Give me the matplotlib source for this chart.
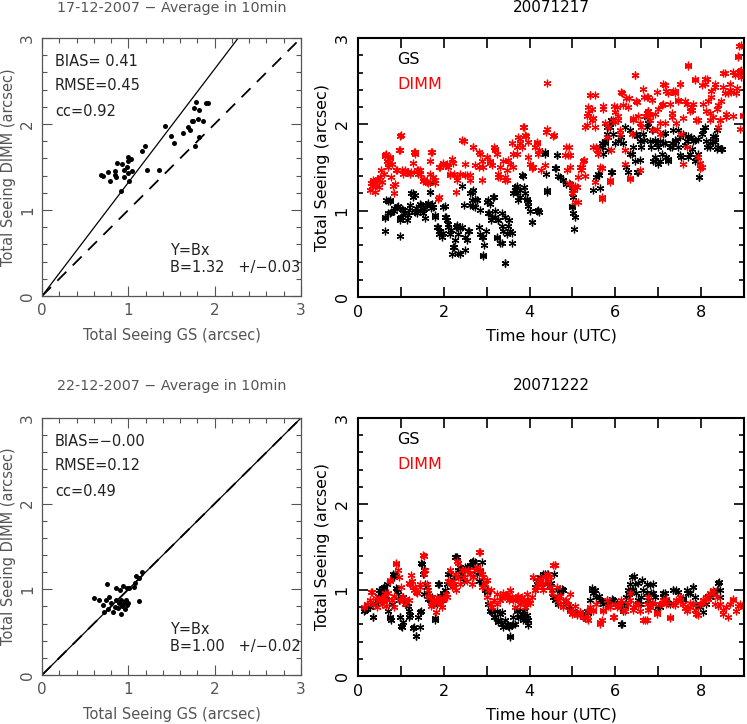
import numpy as np
import matplotlib
matplotlib.use("Agg")
import matplotlib.pyplot as plt
from matplotlib.ticker import MultipleLocator

plt.rcParams['font.family'] = ['DejaVu Sans']

# ---------------- data ----------------
# Scatter 17-12-2007 (GS, DIMM) 10-min averages
sc17_gs = [0.68, 0.71, 0.77, 0.79, 0.84, 0.85, 0.87, 0.86, 0.93, 0.95, 0.92, 0.95, 0.98, 1.00, 1.00,
           1.00, 1.03, 1.04, 1.01, 1.16, 1.19, 1.22, 1.36, 1.43, 1.50, 1.53, 1.63, 1.69, 1.72, 1.74,
           1.75, 1.76, 1.78, 1.77, 1.81, 1.82, 1.82, 1.87, 1.90, 1.92]
sc17_dimm = [1.41, 1.40, 1.44, 1.34, 1.41, 1.45, 1.55, 1.38, 1.54, 1.47, 1.22, 1.38, 1.50, 1.43, 1.57,
             1.62, 1.59, 1.45, 1.34, 1.69, 1.75, 1.47, 1.46, 1.98, 1.86, 1.78, 1.90, 1.96, 1.93, 2.03,
             2.04, 2.19, 2.26, 1.74, 2.06, 2.16, 1.85, 2.03, 2.24, 2.24]
# Scatter 22-12-2007
sc22_gs = [0.60, 0.66, 0.71, 0.74, 0.75, 0.72, 0.76, 0.78, 0.80, 0.82, 0.84, 0.86, 0.86, 0.88, 0.89,
           0.90, 0.91, 0.92, 0.93, 0.94, 0.95, 0.96, 0.97, 0.98, 0.99, 1.00, 1.01, 1.06, 1.08, 1.09,
           1.12, 1.12, 1.16]
sc22_dimm = [0.90, 0.87, 0.82, 0.88, 1.06, 0.73, 0.77, 0.91, 0.84, 0.74, 0.79, 0.88, 1.02, 0.78, 0.84,
             0.99, 0.87, 0.71, 0.80, 1.04, 0.84, 0.77, 0.87, 1.01, 0.82, 0.84, 1.01, 1.03, 1.07, 1.16,
             0.86, 1.13, 1.20]

stats17 = ["BIAS= 0.41", "RMSE=0.45", "cc=0.92"]
stats22 = ["BIAS=\u22120.00", "RMSE=0.12", "cc=0.49"]
fit17 = (1.32, 0.03)
fit22 = (1.00, 0.02)

# Time series 17-12-2007 (hour UTC, seeing arcsec)
gs17_t = [0.64, 0.64, 0.69, 0.74, 0.75, 0.83, 0.91, 0.97, 0.99, 1.02, 1.10, 1.14, 1.22, 1.28, 1.33, 1.37,
          1.45, 1.53, 1.57, 1.61, 1.67, 1.68, 1.72, 1.76, 1.80, 1.84, 1.88, 1.92, 1.96, 1.99, 2.03, 2.07,
          2.11, 2.15, 2.19, 2.23, 2.27, 2.30, 2.34, 2.38, 2.42, 2.46, 2.50, 2.54, 2.58, 2.61, 2.65, 2.69,
          2.73, 2.77, 2.81, 2.85, 2.89, 2.91, 2.94, 2.98, 3.02, 3.05, 3.08, 3.12, 3.16, 3.20, 3.24, 3.27,
          3.31, 3.35, 3.39, 3.43, 3.47, 3.51, 3.55, 3.58, 3.62, 3.66, 3.70, 3.74, 3.78, 3.82, 3.86, 3.89,
          3.93, 3.97, 4.01, 4.05, 4.18, 4.23, 4.36, 4.40, 4.38, 4.63, 4.62, 4.71, 4.79, 4.86, 4.94, 4.98,
          5.02, 5.03, 5.06, 5.48, 5.56, 5.60, 5.64, 5.68, 5.72, 5.76, 5.80, 5.83, 5.87, 5.91, 5.95, 5.91,
          5.99, 6.07, 6.14, 6.22, 6.26, 6.30, 6.34, 6.42, 6.45, 6.49, 6.53, 6.57, 6.61, 6.65, 6.73, 6.76,
          6.80, 6.84, 6.88, 6.92, 6.96, 7.00, 7.04, 7.08, 7.11, 7.15, 7.19, 7.23, 7.27, 7.31, 7.35, 7.42,
          7.46, 7.50, 7.54, 7.58, 7.66, 7.70, 7.73, 7.77, 7.81, 7.85, 7.89, 7.93, 7.95, 7.97, 8.01, 8.08,
          8.12, 8.20, 8.28, 8.32, 8.36, 8.39, 8.47]
gs17_v = [0.77, 0.92, 1.11, 1.11, 0.97, 1.00, 1.04, 0.91, 0.71, 1.02, 0.97, 0.89, 1.06, 1.20, 1.18, 0.97,
          1.08, 1.02, 0.91, 1.06, 1.22, 1.33, 1.08, 1.04, 0.95, 0.81, 0.73, 0.77, 0.69, 1.04, 0.93, 0.89,
          0.81, 0.73, 0.50, 0.58, 0.66, 0.81, 0.73, 0.50, 0.81, 1.06, 0.54, 0.66, 0.77, 1.20, 1.12, 1.24,
          1.04, 1.12, 0.81, 0.73, 0.69, 0.48, 0.60, 0.77, 1.12, 0.97, 1.08, 0.93, 1.16, 1.00, 0.68, 0.89,
          0.62, 0.97, 0.77, 0.39, 0.73, 0.89, 0.77, 0.62, 1.20, 1.27, 1.20, 1.12, 1.24, 1.41, 1.27, 1.20,
          1.14, 1.10, 1.00, 0.87, 1.00, 0.98, 1.68, 1.22, 1.43, 1.64, 1.49, 1.39, 1.35, 1.31, 1.31, 1.04,
          0.97, 0.79, 0.93, 1.24, 1.39, 1.43, 1.74, 1.78, 1.66, 1.81, 1.89, 1.85, 1.97, 2.05, 1.89, 1.45,
          1.78, 1.81, 1.85, 1.97, 1.51, 1.45, 1.66, 1.74, 1.58, 1.89, 1.45, 1.81, 1.74, 1.89, 2.08, 2.01,
          1.81, 1.74, 1.58, 1.62, 1.78, 1.54, 1.81, 1.66, 1.89, 1.78, 1.62, 1.58, 1.74, 1.78, 1.93, 1.81,
          1.74, 1.85, 1.62, 1.89, 1.81, 1.62, 1.66, 1.85, 1.81, 1.58, 1.62, 1.83, 1.39, 1.49, 1.89, 1.97,
          1.81, 1.74, 1.81, 1.85, 1.72, 1.74, 1.72]
gs17b_t = [0.66, 0.74, 0.62, 0.70, 0.78, 0.85, 0.93, 0.97, 1.01, 1.05, 1.09, 1.17, 1.20, 1.24, 1.28, 1.32,
           1.36, 1.44, 1.48, 1.52, 1.59, 1.63, 1.67, 1.71, 1.79, 1.86, 1.90, 1.98, 2.02, 2.06, 2.10, 2.18,
           2.21, 2.29, 2.42, 2.65, 2.73, 2.61, 2.69, 2.77, 2.84, 3.00, 3.04, 3.15, 3.11, 3.19, 3.27, 3.35,
           3.43, 3.50, 3.58, 3.66, 3.70, 3.78, 3.85, 3.93, 3.97, 4.20, 4.36, 4.40, 4.05, 2.30, 2.38, 2.49,
           2.57, 2.92, 3.23, 3.35, 2.34, 2.92, 3.43, 4.63, 4.60, 4.67, 4.79, 4.98, 5.02, 4.98, 5.61, 5.65,
           5.68, 5.76, 5.84, 5.80, 5.92, 5.92, 6.19, 6.34, 6.38, 6.50, 6.58, 6.66, 6.73, 6.73, 6.50, 6.77,
           6.85, 6.92, 7.00, 6.92, 7.04, 7.12, 7.16, 7.23, 7.31, 7.39, 7.47, 7.51, 7.62, 7.70, 7.78, 7.85,
           7.93, 7.95, 8.05, 8.13, 8.20, 8.28, 8.32, 8.36, 8.48]
gs17b_v = [1.12, 1.12, 0.93, 0.97, 0.99, 1.03, 1.05, 0.89, 0.93, 1.01, 0.97, 0.95, 1.01, 1.20, 1.16, 0.99,
           1.03, 1.01, 1.07, 0.97, 1.07, 1.09, 1.22, 1.03, 0.93, 0.81, 0.76, 0.74, 1.05, 0.93, 0.85, 0.78,
           0.58, 0.81, 1.28, 1.22, 1.14, 1.07, 1.05, 1.12, 1.01, 1.10, 0.97, 1.16, 0.89, 0.93, 0.89, 0.82,
           0.93, 0.82, 0.74, 1.24, 1.28, 1.16, 1.40, 1.12, 1.05, 1.01, 1.66, 1.24, 0.87, 0.83, 0.80, 0.70,
           0.76, 0.70, 0.70, 0.62, 0.51, 0.49, 0.39, 1.64, 1.49, 1.40, 1.36, 1.24, 1.16, 1.05, 1.41, 1.26,
           1.74, 1.78, 1.70, 1.97, 2.03, 1.45, 1.78, 1.93, 1.66, 1.86, 1.59, 1.82, 1.97, 2.13, 1.45, 2.15,
           1.93, 1.82, 1.74, 1.57, 1.57, 1.78, 1.90, 1.60, 1.74, 1.82, 1.93, 1.64, 1.76, 1.86, 1.72, 1.82,
           1.66, 1.39, 1.93, 1.74, 1.78, 1.86, 1.80, 1.93, 1.72]

dimm17_t = [0.27, 0.33, 0.36, 0.40, 0.44, 0.48, 0.52, 0.56, 0.60, 0.64, 0.67, 0.71, 0.75, 0.79, 0.83, 0.87,
            0.91, 0.95, 0.99, 1.02, 1.06, 1.14, 1.22, 1.30, 1.33, 1.37, 1.41, 1.45, 1.53, 1.61, 1.67, 1.72,
            1.76, 1.80, 1.88, 1.92, 1.99, 2.07, 2.11, 2.15, 2.19, 2.23, 2.30, 2.38, 2.46, 2.50, 2.54, 2.61,
            2.69, 2.73, 2.81, 2.85, 2.89, 2.92, 3.00, 3.08, 3.12, 3.16, 3.20, 3.24, 3.27, 3.31, 3.39, 3.43,
            3.47, 3.55, 3.58, 3.62, 3.70, 3.74, 3.78, 3.82, 3.87, 3.92, 3.97, 4.01, 4.05, 4.09, 4.13, 4.18,
            4.23, 4.26, 4.38, 4.40, 4.40, 4.55, 4.83, 4.86, 4.90, 4.94, 4.98, 5.00, 5.03, 5.06, 5.10, 5.14,
            5.17, 5.21, 5.25, 5.29, 5.33, 5.37, 5.41, 5.45, 5.48, 5.52, 5.52, 5.56, 5.60, 5.64, 5.68, 5.72,
            5.76, 5.80, 5.83, 5.87, 5.91, 5.95, 5.99, 6.03, 6.07, 6.11, 6.14, 6.18, 6.22, 6.26, 6.30, 6.34,
            6.38, 6.42, 6.45, 6.49, 6.53, 6.57, 6.61, 6.65, 6.69, 6.73, 6.76, 6.80, 6.88, 6.92, 6.96, 7.00,
            7.04, 7.08, 7.11, 7.15, 7.19, 7.27, 7.31, 7.35, 7.39, 7.42, 7.46, 7.50, 7.54, 7.58, 7.62, 7.66,
            7.70, 7.73, 7.77, 7.81, 7.85, 7.89, 7.93, 7.97, 8.01, 8.04, 8.08, 8.12, 8.16, 8.20, 8.24, 8.28,
            8.32, 8.36, 8.39, 8.43, 8.47, 8.51, 8.55, 8.59, 8.63, 8.67, 8.70, 8.74, 8.78, 8.82, 8.86, 8.88,
            8.90, 8.91, 8.94, 8.98]
dimm17_v = [1.24, 1.29, 1.33, 1.22, 1.35, 1.27, 1.39, 1.33, 1.43, 1.64, 1.58, 1.51, 1.62, 1.54, 1.20, 1.31,
            1.47, 1.70, 1.87, 1.47, 1.43, 1.45, 1.43, 1.68, 1.66, 1.47, 1.43, 1.47, 1.35, 1.33, 1.43, 1.68,
            1.39, 1.35, 1.16, 1.51, 1.53, 1.54, 1.51, 1.43, 1.60, 1.43, 1.35, 1.43, 1.81, 1.54, 1.41, 1.41,
            1.74, 1.53, 1.51, 1.66, 1.35, 1.51, 1.62, 1.58, 1.53, 1.74, 1.70, 1.66, 1.43, 1.39, 1.58, 1.35,
            1.47, 1.54, 1.78, 1.66, 1.74, 1.85, 1.83, 1.74, 1.97, 1.87, 1.62, 1.54, 1.49, 1.51, 1.74, 1.79,
            1.70, 1.47, 1.91, 1.95, 2.48, 1.87, 1.64, 1.74, 1.64, 1.51, 1.29, 1.20, 1.24, 1.10, 1.27, 1.39,
            1.51, 1.47, 1.58, 1.97, 2.10, 2.20, 2.34, 2.18, 2.07, 1.97, 1.33, 1.74, 1.66, 1.51, 1.14, 2.18,
            2.01, 1.85, 1.97, 1.33, 1.70, 2.05, 2.14, 2.20, 2.10, 1.89, 2.37, 2.22, 1.54, 2.30, 2.20, 1.37,
            1.89, 2.07, 2.57, 2.27, 2.10, 1.47, 1.97, 2.41, 2.10, 2.32, 2.16, 2.05, 1.93, 2.12, 2.37, 2.18,
            1.89, 2.22, 2.47, 2.01, 2.39, 2.24, 2.08, 2.39, 2.36, 2.01, 2.27, 2.47, 1.89, 1.54, 2.27, 1.74,
            2.68, 2.16, 2.20, 2.24, 2.51, 2.05, 1.62, 1.49, 2.45, 2.24, 2.53, 2.16, 2.27, 2.05, 2.39, 2.08,
            2.43, 2.18, 1.97, 2.05, 2.27, 2.59, 2.36, 2.12, 2.36, 2.47, 2.37, 2.10, 2.57, 2.36, 2.78, 2.91,
            2.62, 1.95, 2.55, 2.10]
dimm17b_t = [0.31, 0.35, 0.39, 0.47, 0.54, 0.62, 0.66, 0.70, 0.74, 0.78, 0.82, 0.89, 0.97, 1.01, 1.09, 1.17,
             1.24, 1.28, 1.32, 1.40, 1.44, 1.52, 1.55, 1.63, 1.67, 1.71, 1.79, 1.86, 1.90, 1.98, 2.06, 2.14,
             2.21, 2.29, 2.42, 2.69, 2.81, 3.00, 3.08, 3.19, 3.31, 3.43, 3.50, 3.62, 3.70, 3.78, 3.85, 3.89,
             3.97, 4.05, 4.17, 4.20, 4.36, 2.30, 2.49, 2.61, 2.88, 3.27, 3.47, 4.56, 4.91, 4.95, 4.87, 4.91,
             5.06, 5.14, 5.22, 5.26, 5.30, 5.41, 5.53, 5.37, 5.33, 5.45, 5.49, 5.57, 5.68, 5.68, 5.72, 5.88,
             5.96, 6.00, 6.07, 6.15, 6.11, 6.23, 6.31, 6.34, 6.42, 6.46, 6.50, 6.58, 6.66, 6.73, 6.77, 6.81,
             6.85, 6.96, 7.04, 7.12, 7.16, 7.23, 7.31, 7.39, 7.47, 7.51, 7.58, 7.66, 7.70, 7.78, 7.85, 7.93,
             7.97, 8.01, 8.09, 8.13, 8.20, 8.24, 8.32, 8.40, 8.44, 8.52, 8.55, 8.59, 8.67, 8.75, 8.83, 8.90,
             8.86, 8.94, 8.94, 8.98]
dimm17b_v = [1.32, 1.36, 1.28, 1.37, 1.47, 1.63, 1.66, 1.55, 1.61, 1.39, 1.28, 1.47, 1.70, 1.88, 1.47, 1.45,
             1.45, 1.55, 1.68, 1.47, 1.43, 1.34, 1.37, 1.32, 1.57, 1.68, 1.32, 1.14, 1.51, 1.55, 1.53, 1.41,
             1.55, 1.22, 1.82, 1.74, 1.68, 1.62, 1.55, 1.72, 1.51, 1.39, 1.59, 1.51, 1.66, 1.78, 1.97, 1.88,
             1.80, 1.51, 1.78, 1.66, 1.53, 1.39, 1.41, 1.35, 1.57, 1.39, 1.35, 1.88, 1.74, 1.64, 1.47, 1.32,
             1.28, 1.10, 1.51, 1.59, 1.40, 2.34, 2.34, 2.13, 1.99, 2.05, 1.74, 1.70, 1.49, 1.16, 2.21, 1.36,
             2.21, 2.03, 2.05, 2.36, 1.93, 1.70, 2.30, 1.38, 2.05, 2.57, 2.26, 2.01, 2.32, 2.13, 2.32, 2.11,
             2.28, 1.95, 2.01, 2.24, 2.46, 2.36, 2.13, 2.39, 2.28, 2.47, 2.07, 2.24, 2.69, 2.17, 2.53, 2.05,
             1.55, 1.51, 2.47, 2.53, 2.13, 2.32, 2.47, 2.22, 2.05, 2.43, 2.59, 2.09, 2.40, 2.61, 2.42, 2.59,
             2.79, 2.92, 2.63, 2.11]

# Time series 22-12-2007
gs22_t = [0.13, 0.21, 0.29, 0.36, 0.44, 0.52, 0.56, 0.60, 0.64, 0.67, 0.71, 0.75, 0.79, 0.83, 0.87, 0.91,
          0.95, 0.99, 1.02, 1.06, 1.12, 1.18, 1.22, 1.30, 1.36, 1.39, 1.44, 1.47, 1.49, 1.53, 1.57, 1.61,
          1.64, 1.68, 1.72, 1.76, 1.80, 1.84, 1.88, 1.92, 1.96, 1.99, 2.07, 2.11, 2.15, 2.19, 2.23, 2.28,
          2.32, 2.38, 2.42, 2.46, 2.54, 2.58, 2.65, 2.69, 2.73, 2.77, 2.81, 2.85, 2.89, 2.92, 2.96, 3.00,
          3.04, 3.08, 3.12, 3.16, 3.24, 3.27, 3.31, 3.35, 3.39, 3.47, 3.51, 3.55, 3.58, 3.62, 3.66, 3.70,
          3.74, 3.78, 3.82, 3.86, 3.89, 3.93, 3.97, 4.13, 4.17, 4.20, 4.24, 4.28, 4.32, 4.36, 4.40, 4.44,
          4.48, 4.52, 4.55, 4.59, 4.67, 4.75, 4.79, 4.86, 4.94, 5.02, 5.10, 5.17, 5.25, 5.33, 5.41, 5.45,
          5.48, 5.52, 5.56, 5.64, 5.72, 5.80, 5.87, 5.95, 6.03, 6.11, 6.14, 6.18, 6.22, 6.26, 6.30, 6.34,
          6.38, 6.42, 6.45, 6.49, 6.53, 6.57, 6.61, 6.65, 6.73, 6.76, 6.80, 6.84, 6.88, 6.92, 6.96, 7.04,
          7.11, 7.15, 7.19, 7.27, 7.35, 7.42, 7.50, 7.58, 7.66, 7.73, 7.81, 7.85, 7.89, 7.97, 8.04, 8.12,
          8.20, 8.28, 8.36, 8.42, 8.45]
gs22_v = [0.76, 0.78, 0.80, 0.69, 0.84, 0.92, 1.00, 1.03, 0.98, 1.07, 0.76, 0.69, 0.84, 1.15, 1.19, 1.01,
          0.88, 0.69, 0.57, 0.92, 0.84, 0.76, 0.71, 0.57, 0.47, 0.69, 0.57, 0.76, 1.30, 1.23, 1.07, 1.03,
          0.96, 0.88, 0.92, 0.84, 0.67, 0.84, 1.07, 0.92, 0.88, 0.96, 1.07, 1.19, 1.11, 1.07, 1.15, 1.38,
          1.23, 1.27, 1.19, 1.11, 1.23, 1.27, 1.33, 1.34, 1.27, 1.19, 1.11, 1.21, 1.33, 1.07, 1.00, 0.98,
          0.84, 0.76, 0.74, 0.69, 0.76, 0.65, 0.72, 0.61, 0.57, 0.61, 0.57, 0.45, 0.59, 0.69, 0.61, 0.76,
          0.69, 0.84, 0.72, 0.76, 0.69, 0.65, 0.59, 1.00, 1.11, 1.07, 1.15, 1.07, 1.19, 1.15, 1.07, 1.19,
          1.03, 1.00, 0.92, 0.88, 0.84, 1.01, 1.00, 0.84, 0.78, 0.76, 0.72, 0.74, 0.69, 0.76, 0.88, 1.00,
          0.96, 1.00, 0.92, 0.88, 0.84, 0.88, 0.84, 0.88, 0.84, 0.80, 0.61, 0.76, 0.84, 0.92, 1.00, 1.07,
          1.15, 1.00, 1.07, 0.96, 0.88, 0.84, 0.92, 1.00, 1.07, 0.88, 0.84, 0.96, 1.07, 0.92, 0.76, 0.80,
          0.92, 0.96, 0.88, 0.84, 1.00, 1.00, 0.92, 0.88, 1.00, 0.96, 1.03, 0.92, 0.84, 0.80, 0.88, 0.84,
          0.92, 0.96, 1.00, 1.09, 0.92]
gs22b_t = [0.16, 0.23, 0.35, 0.39, 0.47, 0.50, 0.54, 0.58, 0.62, 0.66, 0.74, 0.78, 0.82, 0.85, 0.89, 0.93,
           0.97, 1.01, 1.05, 1.13, 1.17, 1.20, 1.28, 1.36, 1.44, 1.48, 1.52, 1.55, 1.63, 1.71, 1.79, 1.86,
           1.94, 2.02, 2.14, 2.21, 2.25, 2.30, 2.38, 2.49, 2.61, 2.73, 2.84, 2.92, 3.00, 3.11, 3.19, 3.27,
           3.35, 3.43, 3.50, 3.54, 3.62, 3.70, 3.78, 3.85, 3.93, 3.97, 4.12, 4.24, 4.36, 4.44, 4.51, 4.56,
           4.63, 4.71, 4.79, 4.95, 5.10, 5.26, 5.37, 5.45, 5.53, 5.61, 5.68, 5.80, 5.92, 6.03, 6.15, 6.23,
           6.31, 6.38, 6.44, 6.52, 6.62, 6.73, 6.81, 6.88, 7.00, 7.12, 7.23, 7.35, 7.47, 7.58, 7.70, 7.82,
           7.93, 8.05, 8.17, 8.28, 8.40, 8.44]
gs22b_v = [0.77, 0.81, 0.69, 0.85, 0.93, 1.00, 0.96, 1.02, 0.96, 0.89, 0.67, 0.65, 1.19, 1.16, 1.02, 0.95,
           0.69, 0.58, 0.63, 0.85, 0.81, 0.69, 0.56, 0.47, 0.75, 1.31, 1.19, 0.95, 0.89, 0.89, 0.65, 1.07,
           0.93, 1.00, 1.19, 1.06, 1.38, 1.38, 1.15, 1.27, 1.29, 1.33, 1.23, 1.08, 1.00, 0.77, 0.69, 0.63,
           0.75, 0.65, 0.58, 0.46, 0.61, 0.77, 0.69, 0.65, 0.71, 0.65, 1.04, 1.12, 1.19, 1.15, 1.08, 1.19,
           1.00, 0.96, 1.00, 0.81, 0.73, 0.69, 0.73, 1.02, 1.00, 0.93, 0.87, 0.85, 0.89, 0.85, 0.61, 0.81,
           0.95, 1.00, 1.16, 1.08, 1.12, 0.96, 1.06, 0.96, 0.81, 0.96, 0.85, 1.00, 0.98, 0.91, 0.96, 1.04,
           0.81, 0.75, 0.93, 0.98, 1.08, 1.00]

dimm22_t = [0.13, 0.21, 0.29, 0.33, 0.36, 0.44, 0.52, 0.56, 0.60, 0.64, 0.67, 0.74, 0.79, 0.83, 0.89, 0.95,
            0.99, 1.02, 1.10, 1.18, 1.22, 1.26, 1.30, 1.33, 1.37, 1.45, 1.53, 1.57, 1.61, 1.64, 1.68, 1.72,
            1.76, 1.84, 1.92, 1.96, 1.99, 2.07, 2.11, 2.15, 2.19, 2.23, 2.27, 2.30, 2.34, 2.38, 2.46, 2.50,
            2.54, 2.61, 2.65, 2.69, 2.73, 2.77, 2.83, 2.85, 2.89, 2.92, 2.96, 3.00, 3.04, 3.08, 3.12, 3.16,
            3.24, 3.31, 3.35, 3.39, 3.47, 3.51, 3.55, 3.58, 3.62, 3.66, 3.70, 3.74, 3.78, 3.82, 3.86, 3.89,
            3.93, 3.97, 4.05, 4.09, 4.13, 4.17, 4.20, 4.24, 4.28, 4.32, 4.36, 4.40, 4.44, 4.48, 4.52, 4.59,
            4.63, 4.67, 4.71, 4.79, 4.86, 4.90, 4.94, 4.98, 5.02, 5.10, 5.17, 5.25, 5.33, 5.37, 5.41, 5.48,
            5.56, 5.64, 5.68, 5.72, 5.80, 5.87, 5.95, 5.99, 6.03, 6.11, 6.14, 6.22, 6.30, 6.34, 6.42, 6.49,
            6.57, 6.65, 6.73, 6.76, 6.80, 6.88, 6.96, 7.04, 7.11, 7.19, 7.27, 7.35, 7.42, 7.50, 7.58, 7.66,
            7.73, 7.81, 7.89, 7.97, 8.04, 8.12, 8.20, 8.28, 8.32, 8.36, 8.43, 8.51, 8.59, 8.67, 8.74, 8.82,
            8.90, 8.98]
dimm22_v = [0.80, 0.84, 0.88, 0.98, 0.84, 0.80, 0.88, 0.84, 0.92, 0.96, 0.88, 1.11, 0.88, 0.80, 1.30, 1.15,
            0.88, 0.92, 0.84, 0.88, 1.07, 1.11, 1.00, 1.03, 0.96, 1.07, 1.40, 1.23, 1.07, 1.00, 0.92, 0.84,
            0.88, 0.92, 0.84, 0.80, 0.88, 0.92, 1.11, 1.23, 1.03, 1.07, 1.19, 1.34, 1.15, 1.07, 1.15, 1.23,
            1.11, 1.19, 1.07, 1.15, 1.23, 1.27, 1.44, 1.23, 1.03, 1.15, 1.07, 0.92, 1.00, 0.84, 0.80, 0.88,
            0.84, 0.88, 0.92, 0.96, 0.92, 0.88, 1.00, 0.92, 0.88, 0.80, 0.92, 0.88, 0.84, 0.92, 0.88, 0.80,
            0.84, 0.88, 0.92, 1.15, 1.00, 1.03, 1.07, 1.13, 1.03, 1.00, 1.15, 1.19, 1.11, 1.03, 0.96, 1.29,
            0.92, 0.88, 0.84, 0.80, 0.88, 0.84, 0.76, 0.72, 0.74, 0.71, 0.72, 0.69, 0.67, 0.76, 0.80, 0.76,
            0.84, 0.61, 0.65, 0.76, 0.88, 0.80, 0.69, 0.84, 0.80, 0.84, 0.88, 0.76, 0.84, 0.88, 0.80, 0.84,
            0.76, 0.65, 0.84, 0.92, 0.80, 0.84, 0.72, 0.84, 0.88, 0.84, 0.69, 0.84, 0.88, 0.92, 0.84, 0.76,
            0.80, 0.84, 0.72, 0.84, 0.88, 0.92, 0.96, 1.00, 0.84, 0.92, 0.84, 0.72, 0.80, 0.84, 0.88, 0.76,
            0.84, 0.80]
dimm22b_t = [0.31, 0.43, 0.50, 0.58, 0.66, 0.70, 0.74, 0.85, 0.89, 0.93, 1.01, 1.09, 1.20, 1.24, 1.28, 1.36,
             1.44, 1.52, 1.55, 1.63, 1.71, 1.79, 1.83, 1.90, 1.98, 2.06, 2.14, 2.21, 2.29, 2.34, 2.42, 2.57,
             2.69, 2.84, 2.88, 3.00, 3.11, 3.23, 3.35, 3.50, 3.62, 3.74, 3.85, 3.93, 4.01, 4.09, 4.20, 4.32,
             4.47, 4.55, 4.60, 4.64, 4.71, 4.83, 4.95, 5.06, 5.18, 5.30, 5.37, 5.49, 5.65, 5.72, 5.84, 5.96,
             6.07, 6.19, 6.34, 6.42, 6.54, 6.69, 6.77, 6.73, 6.85, 6.96, 7.08, 7.19, 7.27, 7.39, 7.50, 7.62,
             7.74, 7.85, 7.93, 8.05, 8.17, 8.28, 8.40, 8.51, 8.63, 8.75, 8.86, 8.98]
dimm22b_v = [0.98, 0.91, 0.89, 0.87, 0.81, 0.96, 1.12, 0.93, 1.31, 1.23, 1.04, 0.89, 1.08, 1.17, 1.04, 0.98,
             1.04, 1.41, 1.19, 0.93, 0.81, 0.85, 0.75, 0.89, 0.91, 0.95, 1.08, 1.10, 1.00, 1.31, 1.23, 1.23,
             1.15, 1.44, 1.19, 1.12, 1.00, 0.95, 0.91, 0.95, 0.89, 0.93, 0.87, 0.95, 0.85, 1.15, 1.10, 1.08,
             1.15, 1.29, 1.29, 1.04, 0.93, 0.87, 0.95, 0.81, 0.75, 0.69, 0.65, 0.77, 0.63, 0.77, 0.81, 0.69,
             0.83, 0.77, 0.96, 0.77, 0.83, 0.65, 0.77, 0.65, 0.85, 0.75, 0.85, 0.89, 0.67, 0.83, 0.87, 0.79,
             0.85, 0.77, 0.71, 0.85, 0.89, 0.96, 0.81, 0.77, 0.69, 0.89, 0.81, 0.83]

titles_left = ["17-12-2007 \u2212 Average in 10min", "22-12-2007 \u2212 Average in 10min"]
titles_right = ["20071217", "20071222"]

# ---------------- figure ----------------
W, H = 747, 724
fig = plt.figure(figsize=(W / 100, H / 100), dpi=100)

def frac(x0, y0, x1, y1):
    return [x0 / W, 1 - y1 / H, (x1 - x0) / W, (y1 - y0) / H]

GRAY = '#555555'
TXT = '#222222'
STAR = (6, 2, 0)


def style_scatter_axes(ax):
    ax.set_xlim(0, 3)
    ax.set_ylim(0, 3)
    ax.xaxis.set_major_locator(MultipleLocator(1))
    ax.yaxis.set_major_locator(MultipleLocator(1))
    ax.xaxis.set_minor_locator(MultipleLocator(0.2))
    ax.yaxis.set_minor_locator(MultipleLocator(0.2))
    ax.tick_params(which='both', direction='in', top=True, right=True, colors=GRAY,
                   labelcolor=GRAY, labelsize=11, width=0.8)
    ax.tick_params(which='major', length=7, pad=5)
    ax.tick_params(which='minor', length=3.5)
    for lab in ax.get_yticklabels():
        lab.set_rotation(90)
        lab.set_va('center')
    for s in ax.spines.values():
        s.set_color(GRAY)
        s.set_linewidth(0.9)
    ax.set_xlabel("Total Seeing GS (arcsec)", color=GRAY, fontsize=10.5, labelpad=7)
    ax.set_ylabel("Total Seeing DIMM (arcsec)", color=GRAY, fontsize=10.5, labelpad=3)


def style_series_axes(ax):
    ax.set_xlim(0, 9)
    ax.set_ylim(0, 3)
    ax.xaxis.set_major_locator(MultipleLocator(2))
    ax.xaxis.set_minor_locator(MultipleLocator(1))
    ax.yaxis.set_major_locator(MultipleLocator(1))
    ax.yaxis.set_minor_locator(MultipleLocator(0.2))
    ax.tick_params(which='both', direction='in', top=True, right=True, colors='black',
                   labelsize=11.5, width=1.2)
    ax.tick_params(which='major', length=7, pad=6)
    ax.tick_params(axis='x', which='minor', length=7)
    ax.tick_params(axis='y', which='minor', length=3.5)
    for lab in ax.get_yticklabels():
        lab.set_rotation(90)
        lab.set_va('center')
    for s in ax.spines.values():
        s.set_linewidth(1.5)
    ax.set_xlabel("Time hour (UTC)", fontsize=11.5, labelpad=6)
    ax.set_ylabel("Total Seeing (arcsec)", fontsize=11.5, labelpad=3)


rows = [
    dict(box_l=(42, 38, 301, 296), box_r=(358, 38, 744, 297),
         sx=sc17_gs, sy=sc17_dimm, stats=stats17, fit=fit17,
         gs=[(gs17_t, gs17_v), (gs17b_t, gs17b_v)],
         dm=[(dimm17_t, dimm17_v), (dimm17b_t, dimm17b_v)],
         tl=titles_left[0], tr=titles_right[0], pad=19),
    dict(box_l=(42, 418, 301, 675), box_r=(358, 418, 744, 676),
         sx=sc22_gs, sy=sc22_dimm, stats=stats22, fit=fit22,
         gs=[(gs22_t, gs22_v), (gs22b_t, gs22b_v)],
         dm=[(dimm22_t, dimm22_v), (dimm22b_t, dimm22b_v)],
         tl=titles_left[1], tr=titles_right[1], pad=20),
]

for r in rows:
    axl = fig.add_axes(frac(*r['box_l']))
    style_scatter_axes(axl)
    xx = np.array([0, 3])
    axl.plot(xx, r['fit'][0] * xx, color='black', lw=0.9)
    axl.plot(xx, xx, color='black', lw=1.3, dashes=(7, 5))
    axl.plot(r['sx'], r['sy'], 'o', color='black', ms=3.6, mec='none')
    for i, s in enumerate(r['stats']):
        axl.text(0.15, [2.73, 2.45, 2.14][i], s, fontsize=10.5, color=TXT, va='center')
    axl.text(1.48, 0.53, "Y=Bx", fontsize=10.5, color=TXT, va='center')
    axl.text(1.48, 0.33, "B=%.2f   +/\u2212%.2f" % r['fit'], fontsize=10.5, color=TXT,
             va='center')
    axl.set_title(r['tl'], color=GRAY, fontsize=10.3, pad=r['pad'])

    axr = fig.add_axes(frac(*r['box_r']))
    style_series_axes(axr)
    for t, v in r['gs']:
        axr.plot(t, v, linestyle='none', marker=STAR, ms=5.5, mew=0.9, color='black')
    for t, v in r['dm']:
        axr.plot(t, v, linestyle='none', marker=STAR, ms=5.5, mew=0.9, color='red')
    axr.text(0.91, 2.75, "GS", fontsize=11.5, color='black', va='center')
    axr.text(0.91, 2.46, "DIMM", fontsize=11.5, color='red', va='center')
    axr.set_title(r['tr'], fontsize=11, pad=r['pad'])

fig.savefig("out.png", dpi=100)
